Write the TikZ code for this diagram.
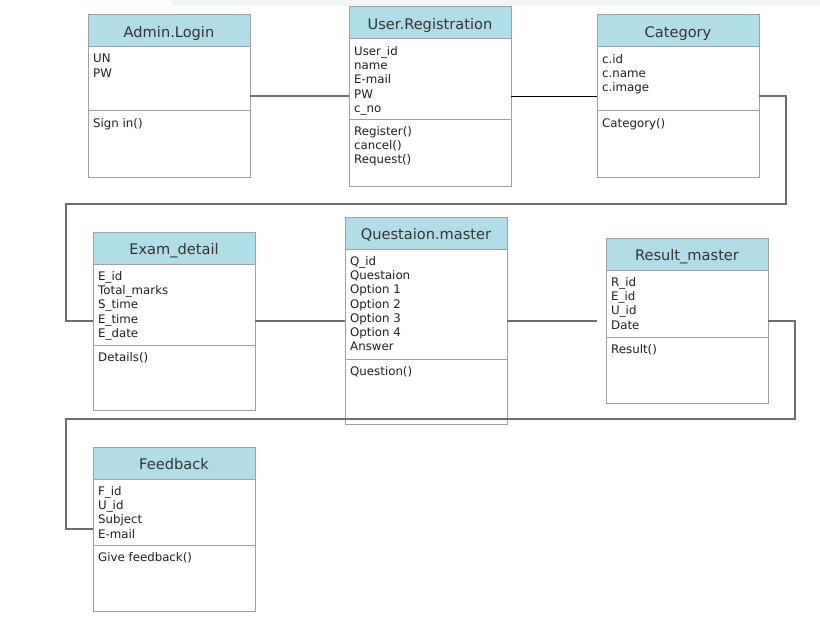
\documentclass[tikz,border=0pt]{standalone}
\usepackage{fontspec}
\setmainfont{DejaVu Sans}
\usetikzlibrary{positioning,fit}
\definecolor{headblue}{RGB}{177,221,232}
\definecolor{boxgray}{RGB}{160,160,160}
\definecolor{linkgray}{RGB}{110,110,110}
\definecolor{topstrip}{RGB}{243,244,245}
\begin{document}
\begin{tikzpicture}[
            x=1pt, y=-1pt,
            head/.style={draw=boxgray, fill=headblue, line width=1pt, minimum width=162pt,
                minimum height=32pt, inner sep=0pt, outer sep=0pt, text height=13.4pt, text depth=0pt,
                text=black!80, font=\fontsize{14.6}{17}\selectfont},
            part/.style={draw=boxgray, fill=white, line width=1pt, minimum width=162pt,
                inner sep=0pt, outer sep=0pt},
            txt/.style={anchor=north west, align=left, inner xsep=5pt, inner ysep=7pt,
                text=black!88, font=\fontsize{11.8}{14.3}\selectfont},
            whole/.style={inner sep=0pt},
            link/.style={draw=linkgray, line width=2pt},
            thinlink/.style={draw=black, line width=1pt}
            ]
        \useasboundingbox (0,0) rectangle (820,618);
        \fill[topstrip] (172,0) rectangle (820,6);

        % Admin.Login
        \node[head] (admin-h) at (169,31) {Admin.Login};
        \node[part, minimum height=64pt, below=0pt of admin-h] (admin-a) {};
        \node[part, minimum height=66pt, below=0pt of admin-a] (admin-m) {};
        \node[txt] (admin-at) at (admin-a.north west) {UN\\PW};
        \node[txt] (admin-op) at (admin-m.north west) {Sign in()};
        \node[whole, fit=(admin-h)(admin-m)] (admin) {};

        % User.Registration
        \node[head] (user-h) at (430,23) {User.Registration};
        \node[part, minimum height=80pt, below=0pt of user-h] (user-a) {};
        \node[part, minimum height=67pt, below=0pt of user-a] (user-m) {};
        \node[txt] (user-at) at (user-a.north west) {User\_id\\name\\E-mail\\PW\\c\_no};
        \node[txt] (user-op) at (user-m.north west) {Register()\\cancel()\\Request()};
        \node[whole, fit=(user-h)(user-m)] (user) {};

        % Category
        \node[head] (cat-h) at (678,31) {Category};
        \node[part, minimum height=64pt, below=0pt of cat-h] (cat-a) {};
        \node[part, minimum height=66pt, below=0pt of cat-a] (cat-m) {};
        \node[txt] (cat-at) at (cat-a.north west) {c.id\\c.name\\c.image};
        \node[txt] (cat-op) at (cat-m.north west) {Category()};
        \node[whole, fit=(cat-h)(cat-m)] (cat) {};

        % Exam_detail
        \node[head] (exam-h) at (174,248) {Exam\_detail};
        \node[part, minimum height=81pt, below=0pt of exam-h] (exam-a) {};
        \node[part, minimum height=65pt, below=0pt of exam-a] (exam-m) {};
        \node[txt] (exam-at) at (exam-a.north west) {E\_id\\Total\_marks\\S\_time\\E\_time\\E\_date};
        \node[txt] (exam-op) at (exam-m.north west) {Details()};
        \node[whole, fit=(exam-h)(exam-m)] (exam) {};

        % Questaion.master
        \node[head] (quest-h) at (426,233) {Questaion.master};
        \node[part, minimum height=110pt, below=0pt of quest-h] (quest-a) {};
        \node[part, minimum height=65pt, below=0pt of quest-a] (quest-m) {};
        \node[txt] (quest-at) at (quest-a.north west) {Q\_id\\Questaion\\Option 1\\Option 2\\Option 3\\Option 4\\Answer};
        \node[txt] (quest-op) at (quest-m.north west) {Question()};
        \node[whole, fit=(quest-h)(quest-m)] (quest) {};

        % Result_master
        \node[head] (res-h) at (687,254) {Result\_master};
        \node[part, minimum height=67pt, below=0pt of res-h] (res-a) {};
        \node[part, minimum height=66pt, below=0pt of res-a] (res-m) {};
        \node[txt] (res-at) at (res-a.north west) {R\_id\\E\_id\\U\_id\\Date};
        \node[txt] (res-op) at (res-m.north west) {Result()};
        \node[whole, fit=(res-h)(res-m)] (res) {};

        % Feedback
        \node[head] (feed-h) at (174,463) {Feedback};
        \node[part, minimum height=66pt, below=0pt of feed-h] (feed-a) {};
        \node[part, minimum height=66pt, below=0pt of feed-a] (feed-m) {};
        \node[txt] (feed-at) at (feed-a.north west) {F\_id\\U\_id\\Subject\\E-mail};
        \node[txt] (feed-op) at (feed-m.north west) {Give feedback()};
        \node[whole, fit=(feed-h)(feed-m)] (feed) {};

        % connectors
        \coordinate (bendA) at (786,204);
        \coordinate (bendB) at (66,321);
        \coordinate (bendC) at (795,419);
        \coordinate (bendD) at (66,529);
        \draw[link] (admin.east) -- (admin.east -| user.west);
        \draw[thinlink] (user.east) -- (user.east -| cat.west);
        \draw[link] (cat.east) -| (bendA) -| (bendB) -- (exam.west);
        \draw[link] (exam.east) -- (exam.east -| quest.west);
        \draw[link] (quest.east) -- ([xshift=-9pt]quest.east -| res.west);
        \draw[link] (res.east) -| (bendC) -| (bendD) -- (feed.west);
        \end{tikzpicture}
\end{document}
